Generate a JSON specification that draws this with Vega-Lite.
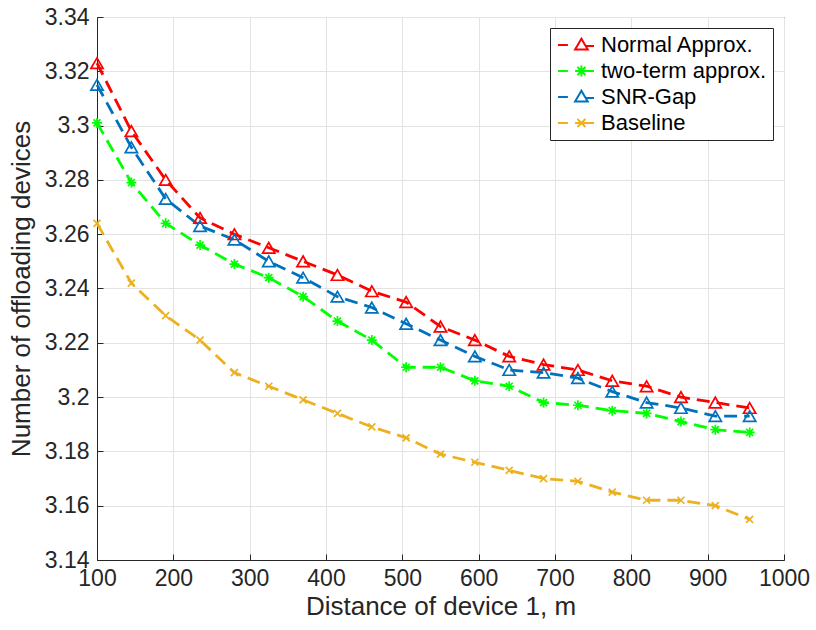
{
  "$schema": "https://vega.github.io/schema/vega-lite/v6.json",
  "width": 687,
  "height": 543,
  "autosize": {"type": "none"},
  "padding": {"left": 97, "top": 17, "right": 32, "bottom": 70},
  "background": "white",
  "config": {
    "font": "Liberation Sans",
    "view": {"stroke": "#262626", "strokeWidth": 1},
    "axis": {
      "labelFont": "Liberation Sans",
      "titleFont": "Liberation Sans",
      "labelFontSize": 23,
      "titleFontSize": 26,
      "titleFontWeight": "normal",
      "labelColor": "#262626",
      "titleColor": "#262626",
      "domainColor": "#262626",
      "tickColor": "#262626",
      "gridColor": "#e3e3e3",
      "gridWidth": 1
    }
  },
  "datasets": {
    "d": [
      {"x": 100, "v": 3.323, "s": "Normal Approx."},
      {"x": 145, "v": 3.298, "s": "Normal Approx."},
      {"x": 190, "v": 3.280, "s": "Normal Approx."},
      {"x": 235, "v": 3.266, "s": "Normal Approx."},
      {"x": 280, "v": 3.260, "s": "Normal Approx."},
      {"x": 325, "v": 3.255, "s": "Normal Approx."},
      {"x": 370, "v": 3.250, "s": "Normal Approx."},
      {"x": 415, "v": 3.245, "s": "Normal Approx."},
      {"x": 460, "v": 3.239, "s": "Normal Approx."},
      {"x": 505, "v": 3.235, "s": "Normal Approx."},
      {"x": 550, "v": 3.226, "s": "Normal Approx."},
      {"x": 595, "v": 3.221, "s": "Normal Approx."},
      {"x": 640, "v": 3.215, "s": "Normal Approx."},
      {"x": 685, "v": 3.212, "s": "Normal Approx."},
      {"x": 730, "v": 3.210, "s": "Normal Approx."},
      {"x": 775, "v": 3.206, "s": "Normal Approx."},
      {"x": 820, "v": 3.204, "s": "Normal Approx."},
      {"x": 865, "v": 3.200, "s": "Normal Approx."},
      {"x": 910, "v": 3.198, "s": "Normal Approx."},
      {"x": 955, "v": 3.196, "s": "Normal Approx."},
      {"x": 100, "v": 3.301, "s": "two-term approx."},
      {"x": 145, "v": 3.279, "s": "two-term approx."},
      {"x": 190, "v": 3.264, "s": "two-term approx."},
      {"x": 235, "v": 3.256, "s": "two-term approx."},
      {"x": 280, "v": 3.249, "s": "two-term approx."},
      {"x": 325, "v": 3.244, "s": "two-term approx."},
      {"x": 370, "v": 3.237, "s": "two-term approx."},
      {"x": 415, "v": 3.228, "s": "two-term approx."},
      {"x": 460, "v": 3.221, "s": "two-term approx."},
      {"x": 505, "v": 3.211, "s": "two-term approx."},
      {"x": 550, "v": 3.211, "s": "two-term approx."},
      {"x": 595, "v": 3.206, "s": "two-term approx."},
      {"x": 640, "v": 3.204, "s": "two-term approx."},
      {"x": 685, "v": 3.198, "s": "two-term approx."},
      {"x": 730, "v": 3.197, "s": "two-term approx."},
      {"x": 775, "v": 3.195, "s": "two-term approx."},
      {"x": 820, "v": 3.194, "s": "two-term approx."},
      {"x": 865, "v": 3.191, "s": "two-term approx."},
      {"x": 910, "v": 3.188, "s": "two-term approx."},
      {"x": 955, "v": 3.187, "s": "two-term approx."},
      {"x": 100, "v": 3.315, "s": "SNR-Gap"},
      {"x": 145, "v": 3.292, "s": "SNR-Gap"},
      {"x": 190, "v": 3.273, "s": "SNR-Gap"},
      {"x": 235, "v": 3.263, "s": "SNR-Gap"},
      {"x": 280, "v": 3.258, "s": "SNR-Gap"},
      {"x": 325, "v": 3.250, "s": "SNR-Gap"},
      {"x": 370, "v": 3.244, "s": "SNR-Gap"},
      {"x": 415, "v": 3.237, "s": "SNR-Gap"},
      {"x": 460, "v": 3.233, "s": "SNR-Gap"},
      {"x": 505, "v": 3.227, "s": "SNR-Gap"},
      {"x": 550, "v": 3.221, "s": "SNR-Gap"},
      {"x": 595, "v": 3.215, "s": "SNR-Gap"},
      {"x": 640, "v": 3.210, "s": "SNR-Gap"},
      {"x": 685, "v": 3.209, "s": "SNR-Gap"},
      {"x": 730, "v": 3.207, "s": "SNR-Gap"},
      {"x": 775, "v": 3.202, "s": "SNR-Gap"},
      {"x": 820, "v": 3.198, "s": "SNR-Gap"},
      {"x": 865, "v": 3.196, "s": "SNR-Gap"},
      {"x": 910, "v": 3.193, "s": "SNR-Gap"},
      {"x": 955, "v": 3.193, "s": "SNR-Gap"},
      {"x": 100, "v": 3.264, "s": "Baseline"},
      {"x": 145, "v": 3.242, "s": "Baseline"},
      {"x": 190, "v": 3.230, "s": "Baseline"},
      {"x": 235, "v": 3.221, "s": "Baseline"},
      {"x": 280, "v": 3.209, "s": "Baseline"},
      {"x": 325, "v": 3.204, "s": "Baseline"},
      {"x": 370, "v": 3.199, "s": "Baseline"},
      {"x": 415, "v": 3.194, "s": "Baseline"},
      {"x": 460, "v": 3.189, "s": "Baseline"},
      {"x": 505, "v": 3.185, "s": "Baseline"},
      {"x": 550, "v": 3.179, "s": "Baseline"},
      {"x": 595, "v": 3.176, "s": "Baseline"},
      {"x": 640, "v": 3.173, "s": "Baseline"},
      {"x": 685, "v": 3.170, "s": "Baseline"},
      {"x": 730, "v": 3.169, "s": "Baseline"},
      {"x": 775, "v": 3.165, "s": "Baseline"},
      {"x": 820, "v": 3.162, "s": "Baseline"},
      {"x": 865, "v": 3.162, "s": "Baseline"},
      {"x": 910, "v": 3.160, "s": "Baseline"},
      {"x": 955, "v": 3.155, "s": "Baseline"}
    ]
  },
  "data": {"name": "d"},
  "encoding": {
    "x": {
      "field": "x", "type": "quantitative",
      "scale": {"domain": [100, 1000], "nice": false},
      "axis": {"title": "Distance of device 1, m", "values": [100,200,300,400,500,600,700,800,900,1000], "tickSize": -6, "labelPadding": 13, "labelFlush": false, "titlePadding": 3, "format": "d"}
    },
    "y": {
      "field": "v", "type": "quantitative",
      "scale": {"domain": [3.14, 3.34], "nice": false, "zero": false},
      "axis": {"title": "Number of offloading devices", "values": [3.14,3.16,3.18,3.2,3.22,3.24,3.26,3.28,3.3,3.32,3.34], "format": ".2~f", "tickSize": -6, "labelPadding": 14, "labelFlush": false, "titlePadding": 10}
    },
    "color": {
      "field": "s", "type": "nominal",
      "scale": {"domain": ["Normal Approx.", "two-term approx.", "SNR-Gap", "Baseline"], "range": ["#FF0000", "#00FF00", "#0072BD", "#EDB120"]},
      "legend": null
    }
  },
  "layer": [
    {
      "mark": {"type": "line", "strokeDash": [13, 7], "strokeWidth": 2.8},
      "encoding": {
        "detail": {"field": "s"},
        "color": {
          "field": "s", "type": "nominal",
          "scale": {"domain": ["Normal Approx.", "two-term approx.", "SNR-Gap", "Baseline"], "range": ["#FF0000", "#00FF00", "#0072BD", "#EDB120"]},
          "legend": {
            "title": null,
            "orient": "top-right",
            "offset": 11,
            "strokeColor": "#262626",
            "fillColor": "white",
            "padding": 6,
            "labelFontSize": 22,
            "labelFont": "Liberation Sans",
            "labelColor": "#000000",
            "labelLimit": 400,
            "symbolSize": 324,
            "symbolStrokeWidth": 2,
            "symbolDash": [1, 0],
            "symbolFillColor": "transparent",
            "rowPadding": 4,
            "labelOffset": 23,
            "encode": {
              "symbols": {
                "update": {
                  "shape": {"signal": "datum.value == 'Baseline' ? 'M-2,0H-0.9M-0.1,0H2M0.15,-0.45L1.05,0.45M0.15,0.45L1.05,-0.45' : datum.value == 'two-term approx.' ? 'M-2,0H-0.9M-0.1,0H2M0.6,-0.6V0.6M0.15,-0.45L1.05,0.45M0.15,0.45L1.05,-0.45' : 'M-2,0H-0.9M0.6,-0.7L1.3,0.5L-0.1,0.5ZM1.15,0.1H2'"},
                  "xc": {"value": 20}
                }
              }
            }
          }
        }
      }
    },
    {
      "transform": [{"filter": "datum.s == 'Normal Approx.' || datum.s == 'SNR-Gap'"}],
      "mark": {"type": "point", "shape": "triangle-up", "filled": false, "strokeWidth": 1.7, "opacity": 1, "size": 150}
    },
    {
      "transform": [{"filter": "datum.s == 'two-term approx.'"}],
      "mark": {"type": "point", "shape": "M-1,0L1,0M0,-1L0,1M-0.7,-0.7L0.7,0.7M-0.7,0.7L0.7,-0.7", "filled": false, "strokeWidth": 1.7, "opacity": 1, "size": 100}
    },
    {
      "transform": [{"filter": "datum.s == 'Baseline'"}],
      "mark": {"type": "point", "shape": "M-0.7,-0.7L0.7,0.7M-0.7,0.7L0.7,-0.7", "filled": false, "strokeWidth": 1.7, "opacity": 1, "size": 100}
    }
  ]
}
